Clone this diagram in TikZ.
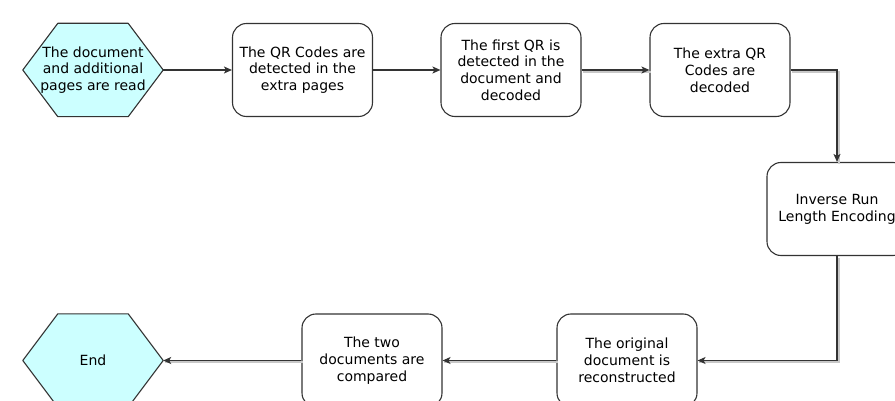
\documentclass[tikz,border=0pt]{standalone}
\usepackage{fontspec}
\setmainfont{DejaVu Sans}
\usetikzlibrary{arrows.meta,calc,backgrounds}
\definecolor{hexfill}{RGB}{204,255,255}
\definecolor{edge}{RGB}{51,51,51}
\definecolor{shade}{RGB}{200,200,200}
% hexagon outline drawn around a named node
\newcommand\hexoutline[1]{%
  \draw[draw=edge, line width=1.1pt, fill=hexfill, line join=round]
    (#1.west) -- ($(#1.north west)+(35,0)$) -- ($(#1.north east)+(-35,0)$)
    -- (#1.east) -- ($(#1.south east)+(-35,0)$) -- ($(#1.south west)+(35,0)$) -- cycle;}
\begin{document}
\begin{tikzpicture}[x=1pt,y=-1pt,
  every node/.style={font=\fontsize{14}{16.8}\selectfont, align=center, text=black},
  stepbox/.style={draw=edge, line width=1.1pt, rounded corners=14pt,
    minimum width=140pt, minimum height=93pt, inner sep=0pt},
  hexbox/.style={minimum width=140pt, minimum height=93pt, inner sep=0pt},
  link/.style={draw=edge, line width=1.1pt, -{Stealth[length=8pt,width=7pt,inset=2pt]}},
  shadowlink/.style={link, preaction={draw=shade, line width=2pt, arrows=-,
    transform canvas={shift={(1.6pt,-1.6pt)}}}}
]
\useasboundingbox (0,0) rectangle (895,401);

\node[hexbox] (start) at (93,70) {The document\\and additional\\pages are read};
\node[stepbox] (detect) at (302.5,70) {The QR Codes are\\detected in the\\extra pages};
\node[stepbox] (first) at (511,70) {The first QR is\\detected in the\\document and\\decoded};
\node[stepbox] (extra) at (720,70) {The extra QR\\Codes are\\decoded};
\node[stepbox] (rle) at (837,209) {Inverse Run\\Length Encoding};
\node[stepbox] (recon) at (627,360.5) {The original\\document is\\reconstructed};
\node[stepbox] (compare) at (372,360.5) {The two\\documents are\\compared};
\node[hexbox] (finish) at (93,360.5) {End};

\begin{scope}[on background layer]
  \hexoutline{start}
  \hexoutline{finish}
\end{scope}

\draw[link] (start.east) -- (detect.west);
\draw[link] (detect.east) -- (first.west);
\draw[shadowlink] (first.east) -- (extra.west);
\draw[shadowlink] (extra.east) -| (rle.north);
\draw[shadowlink] (rle.south) |- (recon.east);
\draw[shadowlink] (recon.west) -- (compare.east);
\draw[shadowlink] (compare.west) -- (finish.east);
\end{tikzpicture}
\end{document}
